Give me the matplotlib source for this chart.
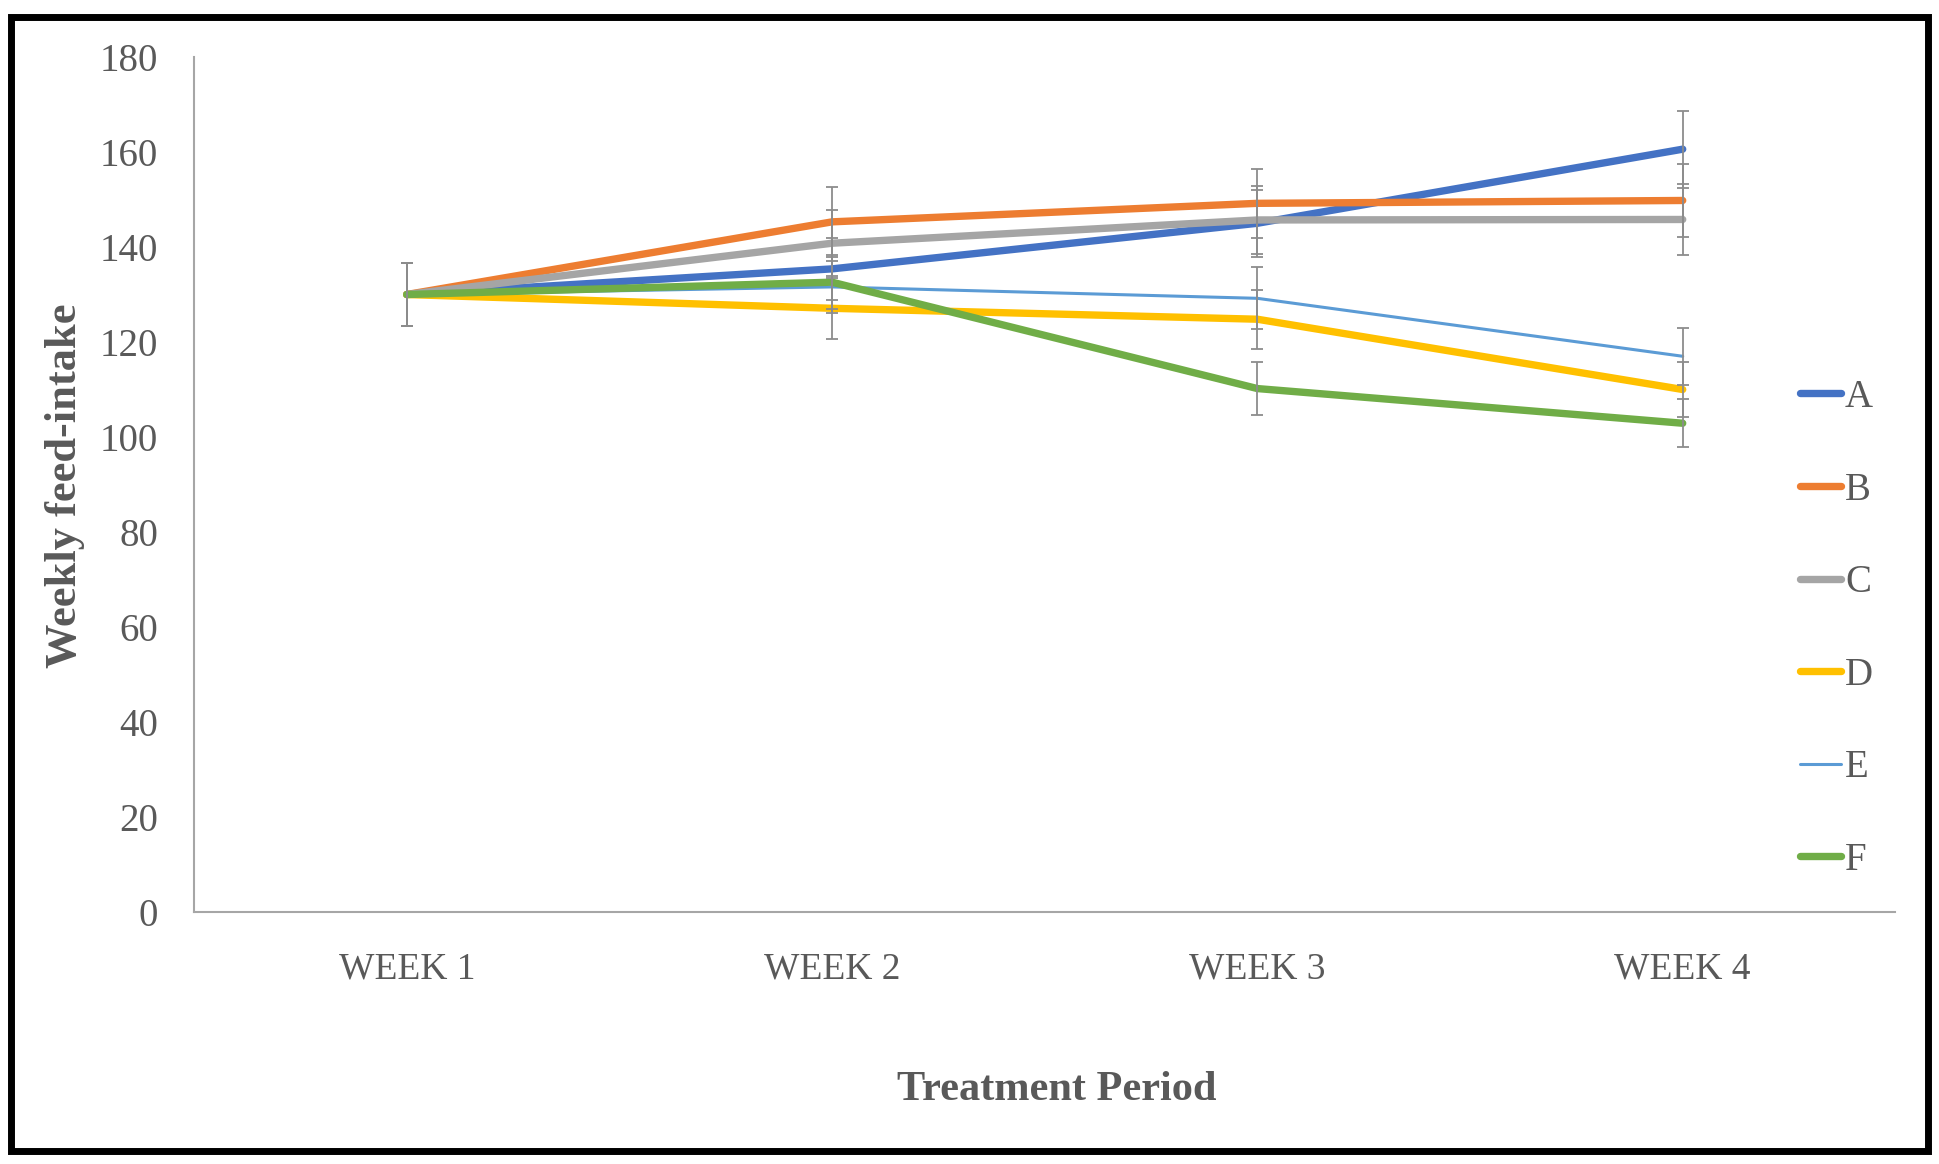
import matplotlib
matplotlib.use('Agg')
from matplotlib import pyplot as plt
from matplotlib.patches import Rectangle

weeks = ['WEEK 1', 'WEEK 2', 'WEEK 3', 'WEEK 4']
series_names = ['A', 'B', 'C', 'D', 'E', 'F']

feed_a = [130, 135.4, 145.0, 160.6]
feed_b = [130, 145.3, 149.2, 149.8]
feed_c = [130, 140.8, 145.7, 145.8]
feed_d = [130, 127.1, 124.8, 110.0]
feed_e = [130, 131.6, 129.2, 117.0]
feed_f = [130, 132.6, 110.2, 102.9]

err_a = [6.7, 6.6, 7.0, 8.1]
err_b = [6.7, 7.4, 7.2, 7.6]
err_c = [6.7, 7.0, 7.2, 7.5]
err_d = [6.7, 6.4, 6.2, 5.8]
err_e = [6.7, 5.5, 6.5, 6.0]
err_f = [6.7, 5.7, 5.6, 5.0]

values = [feed_a, feed_b, feed_c, feed_d, feed_e, feed_f]
errors = [err_a, err_b, err_c, err_d, err_e, err_f]
colours = ['#4472C4', '#ED7D31', '#A5A5A5', '#FFC000', '#5B9BD5', '#70AD47']
widths = [5.3, 5.3, 5.3, 5.3, 2.2, 5.3]

text_colour = '#595959'
serif = 'Liberation Serif'

fig = plt.figure(figsize=(19.39, 11.64), dpi=100)
fig.patch.set_facecolor('white')
ax = fig.add_axes([0.1001, 0.2165, 0.8774, 0.7345])

x = list(range(len(weeks)))
for name, vals, errs, col, lw in zip(series_names, values, errors, colours, widths):
    ax.plot(x, vals, color=col, lw=lw, label=name, solid_capstyle='round', zorder=2)
    ax.errorbar(x, vals, yerr=errs, fmt='none', ecolor='#8c8c8c', elinewidth=1.3,
                capsize=4, capthick=1.3, zorder=3)

ax.set_xlim(-0.5, 3.5)
ax.set_ylim(0, 180)
ax.set_yticks(range(0, 181, 20))
ax.set_xticks(x)
ax.set_xticklabels(weeks)

for side in ['top', 'right']:
    ax.spines[side].set_visible(False)
for side in ['left', 'bottom']:
    ax.spines[side].set_color('#a6a6a6')
    ax.spines[side].set_linewidth(1.5)

ax.tick_params(axis='y', length=0, pad=26, labelsize=28, labelcolor=text_colour)
ax.tick_params(axis='x', length=0, pad=29, labelsize=27, labelcolor=text_colour)
for lab in ax.get_xticklabels() + ax.get_yticklabels():
    lab.set_family(serif)

fig.text(0.0335, 0.5830, 'Weekly feed-intake', rotation=90, ha='center', va='center',
         family=serif, fontsize=32, fontweight='bold', color=text_colour)
fig.text(0.545, 0.0636, 'Treatment Period', ha='center', va='center',
         family=serif, fontsize=30.5, fontweight='bold', color=text_colour)

leg = ax.legend(loc='center left', bbox_to_anchor=(0.9285, 0.4596), bbox_transform=fig.transFigure,
                frameon=False, borderpad=0, borderaxespad=0, handlelength=1.05,
                handletextpad=0.1, labelspacing=1.43,
                prop={'family': serif, 'size': 28})
for t in leg.get_texts():
    t.set_color(text_colour)

fig.patches.append(Rectangle((0.0055, 0.0115), 0.989, 0.974, transform=fig.transFigure,
                             fill=False, edgecolor='black', linewidth=5))

fig.savefig('out.png', dpi=100)
